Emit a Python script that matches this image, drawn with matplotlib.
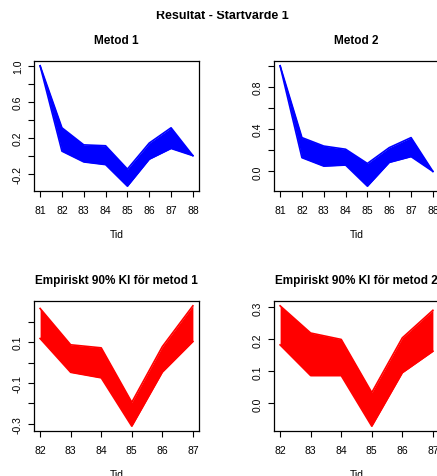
import matplotlib
matplotlib.use("Agg")
import matplotlib.pyplot as plt
from matplotlib.patches import Rectangle

plt.rcParams['font.family'] = ['Liberation Sans', 'DejaVu Sans']

# band envelopes (upper / lower edge of the bundle of lines)
years_a = [81, 82, 83, 84, 85, 86, 87, 88]
m1_upper = [1.0, 0.31, 0.12, 0.11, -0.15, 0.14, 0.31, 0.0]
m1_lower = [1.0, 0.05, -0.07, -0.10, -0.34, -0.04, 0.08, 0.0]
m2_upper = [1.0, 0.32, 0.24, 0.21, 0.075, 0.225, 0.32, 0.0]
m2_lower = [1.0, 0.13, 0.05, 0.06, -0.14, 0.085, 0.14, 0.0]

years_b = [82, 83, 84, 85, 86, 87]
ki1_upper = [0.265, 0.087, 0.072, -0.195, 0.078, 0.278]
ki1_lower = [0.118, -0.048, -0.075, -0.312, -0.047, 0.103]
ki2_upper = [0.305, 0.22, 0.20, 0.034, 0.205, 0.291]
ki2_lower = [0.183, 0.087, 0.087, -0.071, 0.096, 0.163]

W, H = 437, 477
fig = plt.figure(figsize=(W / 100, H / 100), dpi=100)


def make_ax(x0, y0, x1, y1):
    # pixel box -> figure fractions
    return fig.add_axes([x0 / W, 1 - y1 / H, (x1 - x0) / W, (y1 - y0) / H])


panels = [
    (make_ax(34, 62, 199, 192), "Metod 1", years_a, m1_upper, m1_lower, "#0000ff",
     [1.0, 0.8, 0.6, 0.4, 0.2, 0.0, -0.2], ["1.0", "", "0.6", "", "0.2", "", "-0.2"]),
    (make_ax(274, 62, 439, 192), "Metod 2", years_a, m2_upper, m2_lower, "#0000ff",
     [1.0, 0.8, 0.6, 0.4, 0.2, 0.0], ["", "0.8", "", "0.4", "", "0.0"]),
    (make_ax(34, 302, 199, 432), "Empiriskt 90% KI för metod 1", years_b, ki1_upper, ki1_lower, "#ff0000",
     [0.2, 0.1, 0.0, -0.1, -0.2, -0.3], ["", "0.1", "", "-0.1", "", "-0.3"]),
    (make_ax(274, 302, 439, 432), "Empiriskt 90% KI för metod 2", years_b, ki2_upper, ki2_lower, "#ff0000",
     [0.3, 0.2, 0.1, 0.0], ["0.3", "0.2", "0.1", "0.0"]),
]

for ax, title, x, up, lo, col, yt, ytl in panels:
    ax.fill_between(x, lo, up, color=col, linewidth=0)
    ax.plot(x, up, color=col, lw=1.2)
    ax.plot(x, lo, color=col, lw=1.2)

    # R style 4% padding
    span_x = x[-1] - x[0]
    ax.set_xlim(x[0] - 0.04 * span_x, x[-1] + 0.04 * span_x)
    ymin, ymax = min(lo), max(up)
    span_y = ymax - ymin
    ax.set_ylim(ymin - 0.04 * span_y, ymax + 0.04 * span_y)

    ax.set_xticks(x)
    ax.set_xticklabels([str(v) for v in x])
    ax.set_yticks(yt)
    ax.set_yticklabels(ytl, rotation=90, va="center")
    ax.tick_params(length=4, width=0.8, labelsize=7.5, color="black")
    ax.tick_params(axis="x", pad=6)
    ax.tick_params(axis="y", pad=4)
    for s in ax.spines.values():
        s.set_linewidth(0.9)
    ax.set_title(title, fontsize=8.5, fontweight="bold", pad=13)
    ax.set_xlabel("Tid", fontsize=7.5, labelpad=10)

fig.text(222 / W, 1 - 19 / H, "Resultat - Startvärde 1", ha="center", va="baseline",
         fontsize=9, fontweight="bold")
# the top strip of the original is cut away
fig.patches.append(Rectangle((0, 1 - 11.5 / H), 1, 11.5 / H, transform=fig.transFigure,
                             facecolor="white", edgecolor="none", zorder=10))

fig.savefig("out.png", dpi=100)
